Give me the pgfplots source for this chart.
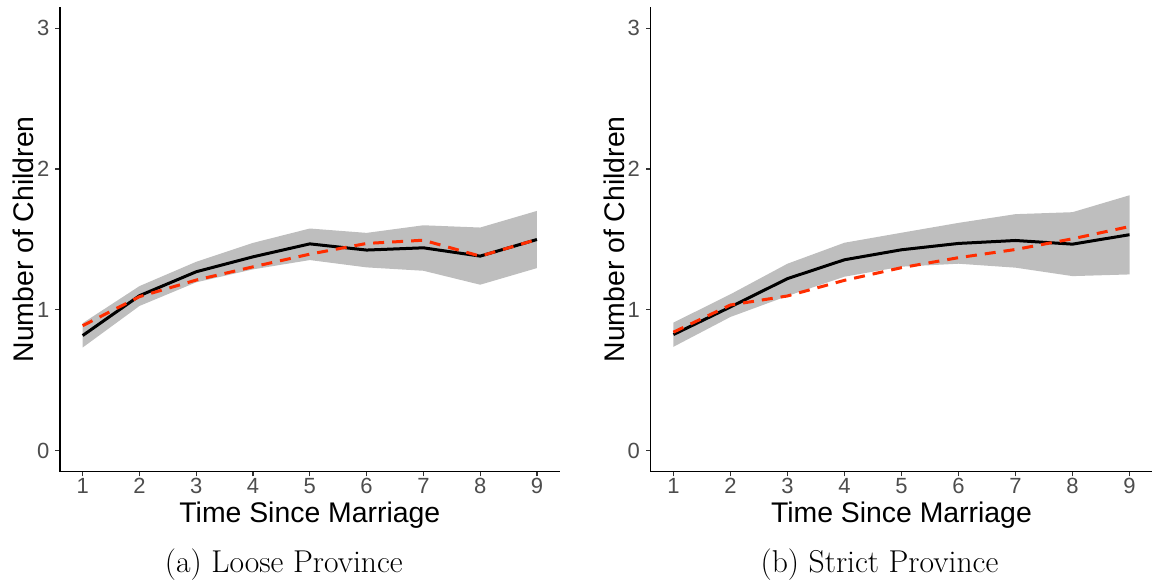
\documentclass[border=0pt]{standalone}
\usepackage{fontspec}
\usepackage{pgfplots}
\pgfplotsset{compat=1.18}
\usepgfplotslibrary{fillbetween}
\newfontfamily\arial{Liberation Sans}
\definecolor{fitred}{RGB}{255,45,0}
\definecolor{band}{RGB}{190,190,190}
\definecolor{ticktext}{RGB}{77,77,77}

% x, observed, predicted, lower, upper
\pgfplotstableread{
x obs pred lo hi
1 0.817 0.887 0.732 0.905
2 1.100 1.093 1.027 1.168
3 1.270 1.211 1.195 1.341
4 1.376 1.305 1.287 1.475
5 1.468 1.395 1.353 1.577
6 1.424 1.471 1.301 1.546
7 1.440 1.494 1.277 1.600
8 1.381 1.381 1.178 1.584
9 1.499 1.499 1.296 1.702
}\loose
\pgfplotstableread{
x obs pred lo hi
1 0.824 0.841 0.737 0.909
2 1.020 1.034 0.949 1.110
3 1.221 1.098 1.098 1.327
4 1.355 1.209 1.235 1.476
5 1.426 1.299 1.306 1.547
6 1.471 1.370 1.327 1.617
7 1.492 1.428 1.299 1.679
8 1.466 1.504 1.239 1.693
9 1.533 1.591 1.251 1.813
}\strict

\pgfplotsset{
  panel/.style={
    scale only axis,
    height=232.5pt,
    xmin=0.6, xmax=9.4,
    ymin=-0.15, ymax=3.15,
    xtick={1,...,9}, ytick={0,1,2,3},
    axis x line*=bottom, axis y line*=left,
    axis line style={-, black, line width=0.7pt},
    tick align=outside,
    major tick length=2.3pt,
    tick style={color=black!80, line width=0.6pt},
    /pgf/number format/assume math mode=true,
    tick label style={font=\arial\fontsize{11}{12}\selectfont, color=ticktext},
    xticklabel style={anchor=base, yshift=-8.5pt},
    yticklabel style={anchor=east, xshift=0.5pt},
    label style={font=\arial\fontsize{14.2}{16}\selectfont},
    xlabel={Time Since Marriage},
    ylabel={Number of Children},
    xlabel style={at={(axis description cs:0.5,0)}, anchor=base, yshift=-25.5pt},
    ylabel style={at={(axis description cs:0,0.5)}, anchor=base, yshift=13.3pt},
    clip=false,
  },
  obsline/.style={black, line width=1.5pt},
  predline/.style={fitred, line width=1.5pt, dash pattern=on 5.5pt off 4pt},
}

\begin{document}
\begin{tikzpicture}

\begin{axis}[panel, width=250pt, at={(30pt,56pt)}, anchor=south west]
\addplot[name path=up, draw=none, forget plot] table[x=x, y=hi] {\loose};
\addplot[name path=dn, draw=none, forget plot] table[x=x, y=lo] {\loose};
\addplot[band, draw=none] fill between[of=up and dn];
\addplot[obsline] table[x=x, y=obs] {\loose};
\addplot[predline] table[x=x, y=pred] {\loose};
\end{axis}

\begin{axis}[panel, width=251pt, at={(325.5pt,56pt)}, anchor=south west]
\addplot[name path=up, draw=none, forget plot] table[x=x, y=hi] {\strict};
\addplot[name path=dn, draw=none, forget plot] table[x=x, y=lo] {\strict};
\addplot[band, draw=none] fill between[of=up and dn];
\addplot[obsline] table[x=x, y=obs] {\strict};
\addplot[predline] table[x=x, y=pred] {\strict};
\end{axis}

\node[anchor=base, font=\fontsize{15.8}{18}\selectfont] at (142pt,5.65pt) {(a) Loose Province};
\node[anchor=base, font=\fontsize{15.8}{18}\selectfont] at (440pt,5.65pt) {(b) Strict Province};
\path (0,0) rectangle (576.5pt,292pt);
\end{tikzpicture}
\end{document}
